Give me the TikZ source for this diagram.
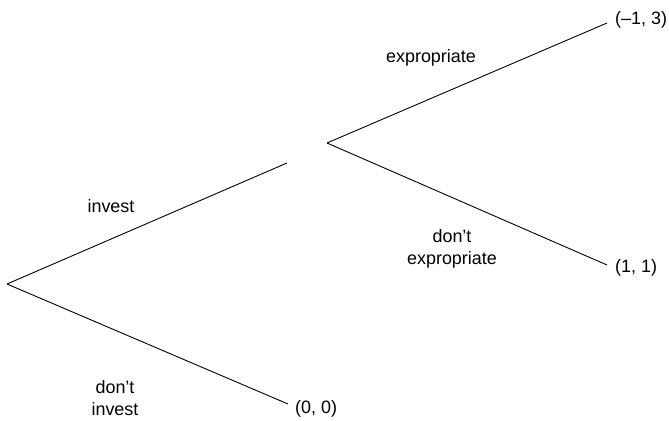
\documentclass[tikz,border=0pt]{standalone}
\usepackage{fontspec}
\setmainfont{Liberation Sans}
\usetikzlibrary{positioning}
\tikzset{
  branch/.style={line width=0.9bp, black},
  move/.style={font=\fontsize{18}{22}\selectfont, align=center},
  payoff/.style={font=\fontsize{18}{22}\selectfont, inner sep=0pt}
}
\begin{document}
\begin{tikzpicture}[x=1bp, y=1bp]
\useasboundingbox (0,0) rectangle (669,420);

 % decision points
\coordinate (root) at (7,136);
\coordinate (inv) at (287,257);
\coordinate (gov) at (327,277);
\coordinate (noinv) at (288,16);
\coordinate (exp) at (607,397);
\coordinate (noexp) at (607,155);

 % branches
\draw[branch] (root) -- (inv);
\draw[branch] (root) -- (noinv);
\draw[branch] (gov) -- (exp);
\draw[branch] (gov) -- (noexp);

 % payoffs
\node[payoff, right=7bp of noinv, yshift=-5bp] (p00) {(0, 0)};
\node[payoff, right=8bp of exp, yshift=3bp] (pm13) {(\textendash1, 3)};
\node[payoff, right=8bp of noexp, yshift=-3bp] (p11) {(1, 1)};

 % moves
\node[move] (invest) at (111,214) {invest};
\node[move] (dontinvest) at (115,22) {don’t\\invest};
\node[move] (expro) at (431,362) {expropriate};
\node[move] (dontexpro) at (452,171) {don’t\\expropriate};
\end{tikzpicture}
\end{document}
